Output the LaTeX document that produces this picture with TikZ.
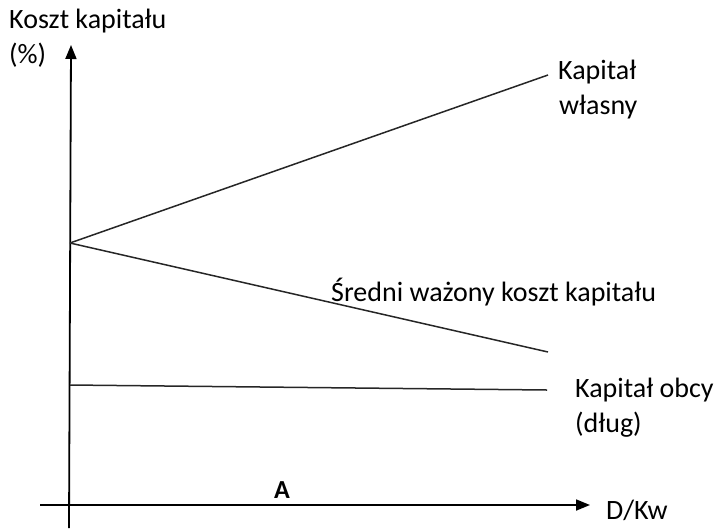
\documentclass[tikz,border=0pt]{standalone}
\usepackage{fontspec}
\setmainfont{Carlito}
\usetikzlibrary{arrows.meta}
\begin{document}
\begin{tikzpicture}[x=1pt,y=-1pt,
  lbl/.style={font=\fontsize{28}{35}\selectfont, inner sep=0pt, anchor=west, align=left},
  axis/.style={line width=1.8pt, -{Triangle[length=14pt,width=11pt]}},
  curve/.style={line width=1.5pt, draw=black!85}]
\useasboundingbox (0,0) rectangle (719,528);
\coordinate (yb) at (69,528);
\coordinate (yt) at (71,45);
\coordinate (xl) at (40,505);
\coordinate (xr) at (590,505);
\draw[axis] (yb) -- (yt);
\draw[axis] (xl) -- (xr);
\coordinate (o) at (70,243);
\coordinate (e) at (548,75);
\coordinate (w) at (548,352);
\coordinate (d0) at (70,385);
\coordinate (d1) at (547,390);
\draw[curve] (o) -- (e);
\draw[curve] (o) -- (w);
\draw[curve] (d0) -- (d1);
\node[lbl] (ylab) at (9,38) {Koszt kapitału\\(\%)};
\node[lbl] (eq) at (558,90) {Kapitał\\\hspace*{1pt}własny};
\node[lbl] (wacc) at (331,292) {Średni ważony koszt kapitału};
\node[lbl] (debt) at (575,408) {Kapitał obcy\\(dług)};
\node[lbl, font=\fontsize{26}{30}\selectfont\bfseries] (A) at (274,490) {A};
\node[lbl] (xlab) at (606,510) {D/Kw};
\end{tikzpicture}
\end{document}
